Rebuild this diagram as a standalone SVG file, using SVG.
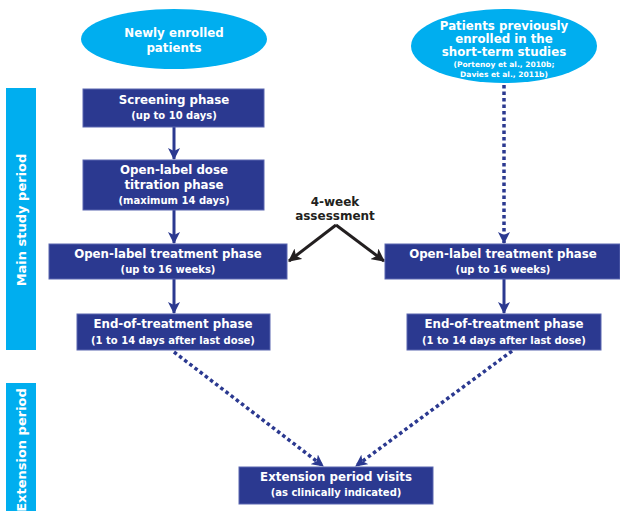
<svg xmlns="http://www.w3.org/2000/svg" width="620" height="511" viewBox="0 0 620 511">
<defs>
<style>
.box{fill:#2b3990;stroke:#5a66b0;stroke-width:1}
.ell{fill:#00aeef}
.side{fill:#00aeef}
text{font-family:"DejaVu Sans","Liberation Sans",sans-serif;font-weight:bold;text-anchor:middle}
.t{fill:#fff;font-size:11.8px}
.s{fill:#fff;font-size:10px}
.r{fill:#fff;font-size:7.5px}
.k{fill:#231f20;font-size:12px}
.side-t{fill:#fff;font-size:13px}
.solid{stroke:#2b3990;stroke-width:3;fill:none}
.dot{stroke:#2b3990;stroke-width:3.5;fill:none;stroke-dasharray:3.5 3}
.blk{stroke:#231f20;stroke-width:3;fill:none}
</style>
<marker id="ab" viewBox="0 0 12 12" refX="11" refY="6" markerWidth="12" markerHeight="12" markerUnits="userSpaceOnUse" orient="auto">
<path d="M0,0 L12,6 L0,12 L3,6 z" fill="#2b3990"/>
</marker>
<marker id="ak" viewBox="0 0 12 12" refX="11" refY="6" markerWidth="13" markerHeight="13" markerUnits="userSpaceOnUse" orient="auto">
<path d="M0,0 L12,6 L0,12 L3,6 z" fill="#231f20"/>
</marker>
</defs>

<g id="sidebar-main">
<rect class="side" x="6" y="88" width="30" height="262"/>
<text class="side-t" transform="translate(26,220) rotate(-90)">Main study period</text>
</g>
<g id="sidebar-ext">
<rect class="side" x="6" y="383" width="30" height="128"/>
<text class="side-t" transform="translate(26,450) rotate(-90)">Extension period</text>
</g>

<g id="connectors">
<line class="solid" x1="174" y1="127" x2="174" y2="159" marker-end="url(#ab)"/>
<line class="solid" x1="174" y1="210" x2="174" y2="243" marker-end="url(#ab)"/>
<line class="solid" x1="174" y1="279" x2="174" y2="313" marker-end="url(#ab)"/>
<line class="solid" x1="504" y1="279" x2="504" y2="313" marker-end="url(#ab)"/>
<line class="dot" x1="504" y1="85" x2="504" y2="243" marker-end="url(#ab)"/>
<line class="dot" x1="174" y1="352" x2="323" y2="466" marker-end="url(#ab)"/>
<line class="dot" x1="512" y1="351" x2="356" y2="466" marker-end="url(#ab)"/>
<line class="blk" x1="336" y1="225" x2="289" y2="261" marker-end="url(#ak)"/>
<line class="blk" x1="336" y1="225" x2="384" y2="261" marker-end="url(#ak)"/>
</g>

<g id="newly-enrolled">
<ellipse class="ell" cx="174" cy="39" rx="93" ry="30"/>
<text class="t" x="174" y="37">Newly enrolled</text>
<text class="t" x="174" y="52">patients</text>
</g>

<g id="previously-enrolled">
<ellipse class="ell" cx="504" cy="46" rx="93" ry="37"/>
<text class="t" x="504" y="30">Patients previously</text>
<text class="t" x="504" y="43">enrolled in the</text>
<text class="t" x="504" y="56">short-term studies</text>
<text class="r" x="504" y="67">(Portenoy et al., 2010b;</text>
<text class="r" x="504" y="77">Davies et al., 2011b)</text>
</g>

<g id="screening">
<rect class="box" x="83" y="89" width="181" height="38"/>
<text class="t" x="174" y="104">Screening phase</text>
<text class="s" x="174" y="119">(up to 10 days)</text>
</g>

<g id="titration">
<rect class="box" x="83" y="160" width="181" height="50"/>
<text class="t" x="174" y="174">Open-label dose</text>
<text class="t" x="174" y="189">titration phase</text>
<text class="s" x="174" y="204">(maximum 14 days)</text>
</g>

<g id="treatment-left">
<rect class="box" x="49" y="244" width="238" height="35"/>
<text class="t" x="168" y="258">Open-label treatment phase</text>
<text class="s" x="168" y="273">(up to 16 weeks)</text>
</g>

<g id="treatment-right">
<rect class="box" x="385" y="244" width="235" height="35"/>
<text class="t" x="503" y="258">Open-label treatment phase</text>
<text class="s" x="503" y="273">(up to 16 weeks)</text>
</g>

<g id="assessment">
<text class="k" x="335" y="206">4-week</text>
<text class="k" x="335" y="220">assessment</text>
</g>

<g id="end-left">
<rect class="box" x="77" y="314" width="193" height="36"/>
<text class="t" x="173" y="328">End-of-treatment phase</text>
<text class="s" x="173" y="344">(1 to 14 days after last dose)</text>
</g>

<g id="end-right">
<rect class="box" x="407" y="314" width="194" height="36"/>
<text class="t" x="504" y="328">End-of-treatment phase</text>
<text class="s" x="504" y="344">(1 to 14 days after last dose)</text>
</g>

<g id="extension">
<rect class="box" x="239" y="467" width="194" height="37"/>
<text class="t" x="336" y="481">Extension period visits</text>
<text class="s" x="336" y="496">(as clinically indicated)</text>
</g>
</svg>
